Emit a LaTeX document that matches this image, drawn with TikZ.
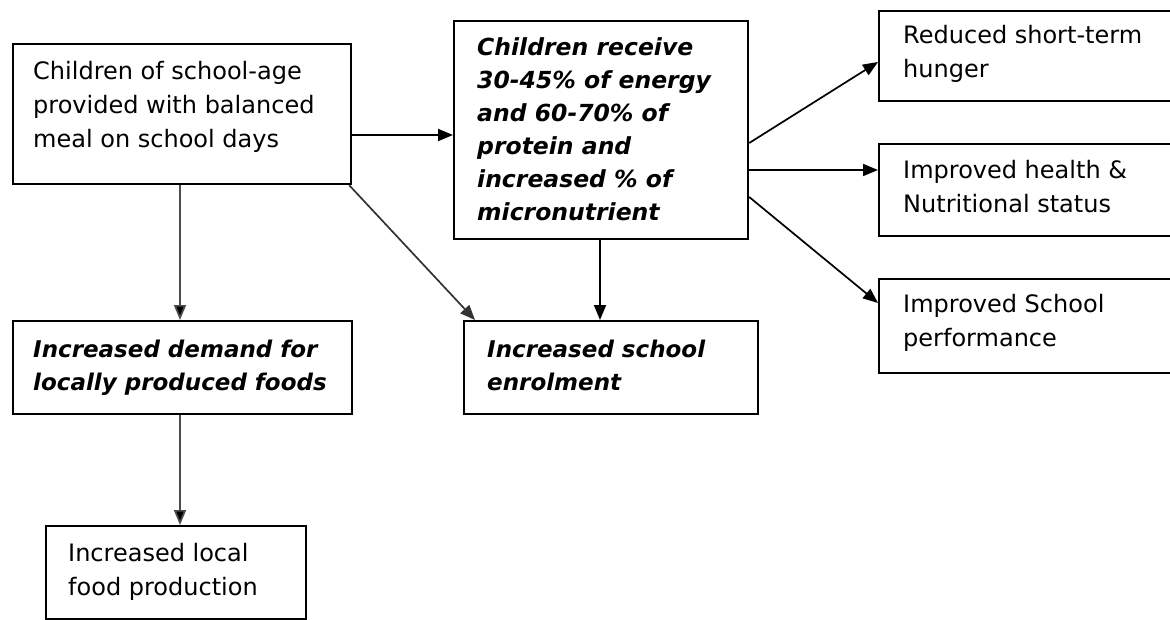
\documentclass[tikz,border=0pt]{standalone}
\usepackage{fontspec}
\setmainfont{DejaVu Sans}
\usetikzlibrary{arrows.meta}
\tikzset{
  box/.style={draw=black, line width=2.2pt, inner sep=0pt, anchor=north west, fill=white},
  txt/.style={inner sep=0pt, anchor=north west, align=left, text=black,
    font=\fontsize{24}{34}\selectfont},
  btxt/.style={txt, font=\fontsize{23.5}{33}\selectfont\bfseries\itshape},
  itxt/.style={txt, font=\fontsize{23}{33}\selectfont\bfseries\itshape},
  arr/.style={line width=1.7pt, -{Triangle[length=15pt,width=12pt]}},
  garr/.style={arr, draw=black!70, -{Triangle[length=15pt,width=12pt,fill=black]}}
}
\begin{document}
\begin{tikzpicture}[x=1pt,y=-1pt]
\useasboundingbox (0,0) rectangle (1170,619);
\clip (0,0) rectangle (1170,619);
% boxes
\node[box, minimum width=338pt, minimum height=140pt] (A) at (12,43) {};
\node[box, minimum width=294pt, minimum height=218pt] (B) at (453,20) {};
\node[box, minimum width=310pt, minimum height=90pt] (C) at (878,10) {};
\node[box, minimum width=310pt, minimum height=92pt] (D) at (878,143) {};
\node[box, minimum width=310pt, minimum height=94pt] (E) at (878,278) {};
\node[box, minimum width=339pt, minimum height=93pt] (F) at (12,320) {};
\node[box, minimum width=294pt, minimum height=93pt] (G) at (463,320) {};
\node[box, minimum width=260pt, minimum height=93pt] (H) at (45,525) {};
% texts
\node[txt] (tA) at (33,61) {Children of school-age\\provided with balanced\\meal on school days};
\node[btxt] (tB) at (477,37) {Children receive\\30-45\% of energy\\and 60-70\% of\\protein and\\increased \% of\\micronutrient};
\node[txt] (tC) at (903,25) {Reduced short-term\\hunger};
\node[txt] (tD) at (903,160) {Improved health \&\\Nutritional status};
\node[txt] (tE) at (903,294) {Improved School\\performance};
\node[itxt] (tF) at (33,340) {Increased demand for\\locally produced foods};
\node[itxt] (tG) at (487,340) {Increased school\\enrolment};
\node[txt] (tH) at (68,543) {Increased local\\food production};
% connectors
\draw[arr] (A.east |- {(0,135)}) -- (B.west |- {(0,135)});
\draw[garr] (A.south -| {(180,0)}) -- (F.north -| {(180,0)});
\draw[arr, draw=black!80] ([xshift=-3pt]A.south east) -- ([xshift=12pt]G.north west);
\draw[arr] (B.south -| {(600,0)}) -- (G.north -| {(600,0)});
\draw[arr] (B.east |- {(0,143)}) -- (C.west |- {(0,62)});
\draw[arr] (B.east |- {(0,170)}) -- (D.west |- {(0,170)});
\draw[arr] (B.east |- {(0,197)}) -- (E.west |- {(0,303)});
\draw[garr] (F.south -| {(180,0)}) -- (H.north -| {(180,0)});
\end{tikzpicture}
\end{document}
